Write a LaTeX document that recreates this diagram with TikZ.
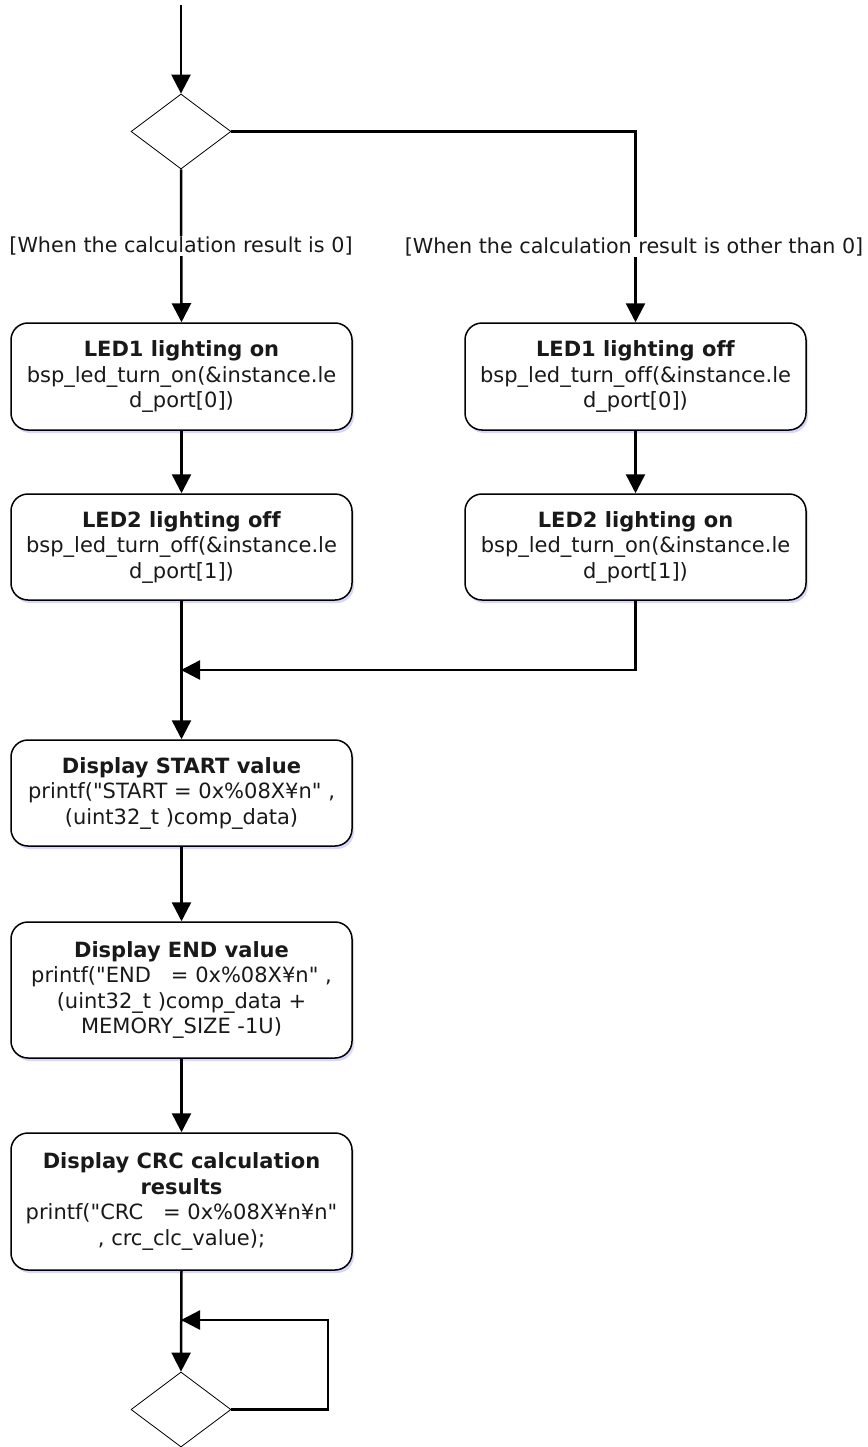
\documentclass[tikz,border=0pt]{standalone}
\usepackage{fontspec}
\newfontfamily\vfont[Ligatures=NoCommon]{DejaVu Sans}
\usetikzlibrary{arrows.meta,shapes.geometric,shadows}
\tikzset{
  procbox/.style={draw, line width=1.5pt, rounded corners=17pt, fill=white,
    minimum width=341pt, inner sep=0pt, align=center,
    font=\vfont\fontsize{21}{25.5}\selectfont, text=black!90,
    drop shadow={shadow xshift=2pt, shadow yshift=-3pt, fill=blue!40!white, opacity=0.4}},
  decision/.style={draw, diamond, line width=0.8pt, minimum width=100pt, minimum height=75pt, inner sep=0pt, fill=white},
  conn/.style={line width=2.5pt},
  arr/.style={conn, -{Triangle[length=19pt,width=19pt]}},
  guard/.style={fill=white, inner sep=1pt, font=\vfont\fontsize{20.7}{25.5}\selectfont, text=black!90}
}
\begin{document}
\begin{tikzpicture}[x=1pt,y=-1pt]
\useasboundingbox[fill=white] (0,0) rectangle (867,1447);

\coordinate (top) at (181,5);
\node[decision] (dec1) at (181,131.5) {};

\node[procbox, minimum height=107pt] (led1on) at (181.5,376.5)
  {\textbf{LED1 lighting on}\\bsp\_led\_turn\_on(\&instance.le\\d\_port[0])};
\node[procbox, minimum height=106pt] (led2off) at (181.5,547)
  {\textbf{LED2 lighting off}\\bsp\_led\_turn\_off(\&instance.le\\d\_port[1])};
\node[procbox, minimum height=107pt] (led1off) at (635.5,376.5)
  {\textbf{LED1 lighting off}\\bsp\_led\_turn\_off(\&instance.le\\d\_port[0])};
\node[procbox, minimum height=106pt] (led2on) at (635.5,547)
  {\textbf{LED2 lighting on}\\bsp\_led\_turn\_on(\&instance.le\\d\_port[1])};

\coordinate (merge) at (181,670);

\node[procbox, minimum height=106pt] (start) at (181.5,793)
  {\textbf{Display START value}\\printf("START = 0x\%08X¥n" ,\\(uint32\_t )comp\_data)};
\node[procbox, minimum height=136pt] (end) at (181.5,990)
  {\textbf{Display END value}\\printf("END\ \ \ = 0x\%08X¥n" ,\\(uint32\_t )comp\_data +\\MEMORY\_SIZE -1U)};
\node[procbox, minimum height=137pt] (crc) at (181.5,1201.5)
  {\textbf{Display CRC calculation}\\\textbf{results}\\printf("CRC\ \ \ = 0x\%08X¥n¥n"\\, crc\_clc\_value);};

\node[decision] (dec2) at (181,1409.5) {};
\coordinate (loopj) at (181,1320);
\coordinate (loopc) at (328,1320);

% connectors
\draw[arr] (top) -- (dec1.north);
\draw[arr] (dec1.south) -- (led1on.north);
\draw[arr] (dec1.east) -| (led1off.north);
\draw[arr] (led1on.south) -- (led2off.north);
\draw[arr] (led1off.south) -- (led2on.north);
\draw[arr] (led2on.south) |- (merge);
\draw[arr] (led2off.south) -- (start.north);
\draw[arr] (start.south) -- (end.north);
\draw[arr] (end.south) -- (crc.north);
\draw[arr] (crc.south) -- (dec2.north);
\draw[arr] (dec2.east) -| (loopc) -- (loopj);

% guards
\node[guard] (g0) at (181,246) {[When the calculation result is 0]};
\node[guard] (g1) at (634,247) {[When the calculation result is other than 0]};
\end{tikzpicture}
\end{document}
